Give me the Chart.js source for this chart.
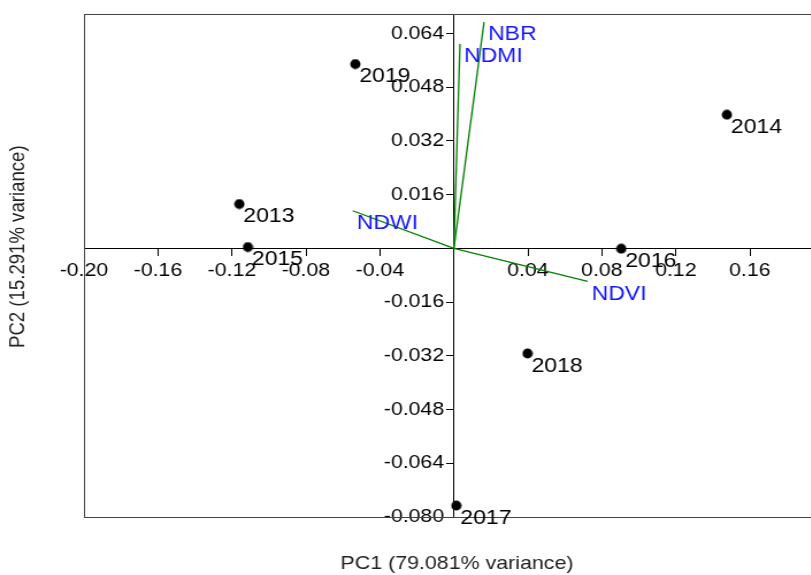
<!DOCTYPE html>
<html>
<head>
<meta charset="utf-8">
<script src="https://cdn.jsdelivr.net/npm/chart.js@4/dist/chart.umd.min.js"></script>
<style>
html,body{margin:0;padding:0;overflow:hidden;background:#fff;}
#wrap{width:722px;height:575px;transform:scaleX(1.15);transform-origin:0 0;}
canvas{display:block;}
</style>
</head>
<body>
<div id="wrap"><canvas id="c" width="722" height="575"></canvas></div>
<script>
// Sample scores (years) on PC1 / PC2
const years = ['2013', '2014', '2015', '2016', '2017', '2018', '2019'];
const pc1Scores = [-0.116, 0.1476, -0.1114, 0.0905, 0.0013, 0.0398, -0.0533];
const pc2Scores = [0.0132, 0.0398, 0.0004, -0.0001, -0.0766, -0.0313, 0.0549];

// Variable loadings (biplot vectors)
const variables = ['NDVI', 'NDWI', 'NDMI', 'NBR'];
const loadPC1 = [0.0723, -0.0547, 0.0033, 0.0163];
const loadPC2 = [-0.0098, 0.0112, 0.0609, 0.0674];

// Tick values and labels
const xTickValues = [-0.20, -0.16, -0.12, -0.08, -0.04, 0.04, 0.08, 0.12, 0.16];
const xTickLabels = ['-0.20', '-0.16', '-0.12', '-0.08', '-0.04', '0.04', '0.08', '0.12', '0.16'];
const yTickValues = [-0.080, -0.064, -0.048, -0.032, -0.016, 0.016, 0.032, 0.048, 0.064];
const yTickLabels = ['-0.080', '-0.064', '-0.048', '-0.032', '-0.016', '0.016', '0.032', '0.048', '0.064'];

const xTitle = 'PC1 (79.081% variance)';
const yTitle = 'PC2 (15.291% variance)';

const FONT = '"Liberation Sans", Arial, sans-serif';
Chart.defaults.font.family = FONT;

// round dot marker (compensates the horizontal stretch of the page)
const dot = document.createElement('canvas');
dot.width = 10; dot.height = 11;
(function () {
  const c = dot.getContext('2d');
  c.fillStyle = '#000';
  c.beginPath();
  c.ellipse(5, 5.5, 4.45, 5.1, 0, 0, Math.PI * 2);
  c.fill();
})();

// place y tick labels to the left of the tick marks (axis drawn through x = 0)
function patchYLabels(s) {
  if (s._labelPatched) return;
  s._labelPatched = true;
  const orig = s._computeLabelItems;
  s._computeLabelItems = function (ca) {
    const items = orig.call(this, ca);
    const shift = this.options.grid.tickLength + this.options.ticks.padding;
    items.forEach(it => {
      if (it.options && it.options.translation) it.options.translation[0] -= shift;
    });
    return items;
  };
}

const framePlugin = {
  id: 'frame',
  beforeDatasetsDraw(chart) {
    const {ctx, chartArea: a} = chart;
    ctx.save();
    ctx.strokeStyle = '#444';
    ctx.lineWidth = 1;
    ctx.strokeRect(Math.round(a.left) + 0.5, Math.round(a.top) + 0.5, a.right - a.left + 40, Math.round(a.bottom - a.top));
    ctx.restore();
  }
};

const labelPlugin = {
  id: 'labels',
  afterDatasetsDraw(chart) {
    const {ctx} = chart;
    const xs = chart.scales.x, ys = chart.scales.y;
    ctx.save();
    ctx.textAlign = 'left';
    ctx.textBaseline = 'alphabetic';
    ctx.font = '20px ' + FONT;
    ctx.fillStyle = '#000';
    years.forEach((t, i) => {
      const px = xs.getPixelForValue(pc1Scores[i]);
      const py = ys.getPixelForValue(pc2Scores[i]);
      ctx.fillText(t, px + 3.5, py + 18.3);
    });
    ctx.fillStyle = '#1414ff';
    variables.forEach((t, i) => {
      const px = xs.getPixelForValue(loadPC1[i]);
      const py = ys.getPixelForValue(loadPC2[i]);
      ctx.fillText(t, px + 3.5, py + 18.3);
    });
    // axis titles
    ctx.fillStyle = '#222';
    ctx.font = '18.6px ' + FONT;
    ctx.textAlign = 'center';
    ctx.fillText(xTitle, 397.4, 569);
    ctx.save();
    ctx.translate(21, 246.7);
    ctx.rotate(-Math.PI / 2);
    ctx.fillText(yTitle, 0, 0);
    ctx.restore();
    ctx.restore();
  }
};

const datasets = variables.map((name, i) => ({
  type: 'line',
  label: name,
  data: [{x: 0, y: 0}, {x: loadPC1[i], y: loadPC2[i]}],
  borderColor: '#008000',
  borderWidth: 1.3,
  pointRadius: 0,
  fill: false,
  tension: 0,
  order: 2
}));
datasets.push({
  type: 'scatter',
  label: 'Years',
  data: years.map((y, i) => ({x: pc1Scores[i], y: pc2Scores[i]})),
  backgroundColor: '#000',
  borderColor: '#000',
  borderWidth: 0,
  pointStyle: dot,
  pointRadius: 5,
  pointHoverRadius: 5,
  order: 1
});

new Chart(document.getElementById('c'), {
  type: 'scatter',
  data: {datasets},
  options: {
    responsive: false,
    animation: false,
    devicePixelRatio: 1,
    layout: {padding: {left: 73, top: 14, right: 0, bottom: 58}},
    plugins: {legend: {display: false}, tooltip: {enabled: false}},
    events: [],
    scales: {
      x: {
        type: 'linear',
        position: {y: 0},
        min: -0.2,
        max: 0.2004,
        afterBuildTicks: s => { s.ticks = xTickValues.map(v => ({value: v})); },
        grid: {drawOnChartArea: false, drawTicks: true, tickLength: 7, color: '#000', lineWidth: 1},
        border: {display: true, color: '#000', width: 1},
        ticks: {callback: (v, i) => xTickLabels[i], color: '#000', font: {size: 18.5}, padding: 4, maxRotation: 0, autoSkip: false}
      },
      y: {
        type: 'linear',
        position: {x: 0},
        min: -0.08,
        max: 0.0698,
        afterBuildTicks: s => { s.ticks = yTickValues.map(v => ({value: v})); patchYLabels(s); },
        grid: {drawOnChartArea: false, drawTicks: true, tickLength: 6, color: '#000', lineWidth: 1},
        border: {display: true, color: '#000', width: 1},
        ticks: {callback: (v, i) => yTickLabels[i], color: '#000', font: {size: 18.5}, padding: 2.5, autoSkip: false}
      }
    }
  },
  plugins: [framePlugin, labelPlugin]
});
</script>
</body>
</html>
